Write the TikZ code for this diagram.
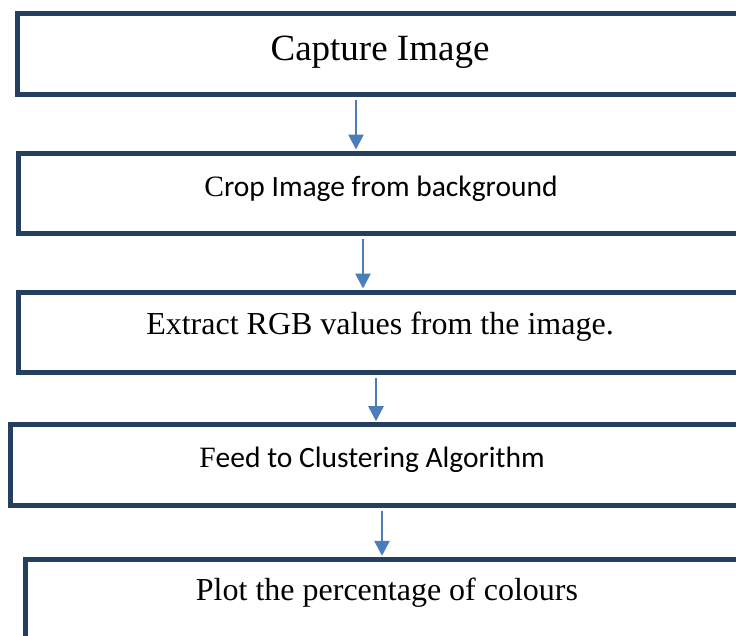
\documentclass[tikz,border=0pt]{standalone}
\usepackage{fontspec}
\setmainfont{Liberation Serif}
\newfontfamily\calibri{Carlito}
\usetikzlibrary{arrows.meta}

\definecolor{boxnavy}{HTML}{243F60}
\definecolor{arrowblue}{HTML}{4A7EBB}

\tikzset{
  stepbox/.style={draw=boxnavy, line width=5pt, rectangle, inner sep=0pt,
    outer sep=0pt, anchor=north west},
  serifbig/.style={anchor=base, inner sep=0pt, font=\fontsize{37}{44}\selectfont},
  seriftext/.style={anchor=base, inner sep=0pt, font=\fontsize{32}{38}\selectfont},
  sanstext/.style={anchor=base, inner sep=0pt, font=\calibri\fontsize{29.5}{35}\selectfont},
  flow/.style={draw=arrowblue, line width=2.7pt,
    -{Triangle[width=15pt,length=15pt]}, shorten <=5.5pt, shorten >=3.5pt}
}

\begin{document}
\begin{tikzpicture}[x=1pt,y=-1pt]
  \useasboundingbox (0,0) rectangle (736,635);
  \clip (0,0) rectangle (736,635);

  % process boxes (they run past the right edge of the page)
  \node[stepbox, minimum width=732.5pt, minimum height=80.5pt] (b1) at (17.5,13.5) {};
  \node[stepbox, minimum width=731.5pt, minimum height=80.5pt] (b2) at (18.5,153) {};
  \node[stepbox, minimum width=731.5pt, minimum height=80.5pt] (b3) at (18.5,292) {};
  \node[stepbox, minimum width=739.2pt, minimum height=80.3pt] (b4) at (10.8,424.7) {};
  \node[stepbox, minimum width=724.2pt, minimum height=120pt] (b5) at (25.8,559.3) {};

  % labels
  \node[serifbig] (t1) at (380,60) {Capture Image};
  \node[sanstext] (t2) at (381,196) {{\rmfamily C}rop Image from background};
  \node[seriftext] (t3) at (380,334) {Extract RGB values from the image.};
  \node[sanstext] (t4) at (372,467) {{\rmfamily F}eed to Clustering Algorithm};
  \node[seriftext] (t5) at (387,600) {Plot the percentage of colours};

  % arrow columns
  \coordinate (x1) at (356,0);
  \coordinate (x2) at (363,0);
  \coordinate (x3) at (376,0);
  \coordinate (x4) at (382,0);

  \draw[flow] (x1 |- b1.south) -- (x1 |- b2.north);
  \draw[flow] (x2 |- b2.south) -- (x2 |- b3.north);
  \draw[flow] (x3 |- b3.south) -- (x3 |- b4.north);
  \draw[flow] (x4 |- b4.south) -- (x4 |- b5.north);
\end{tikzpicture}
\end{document}
